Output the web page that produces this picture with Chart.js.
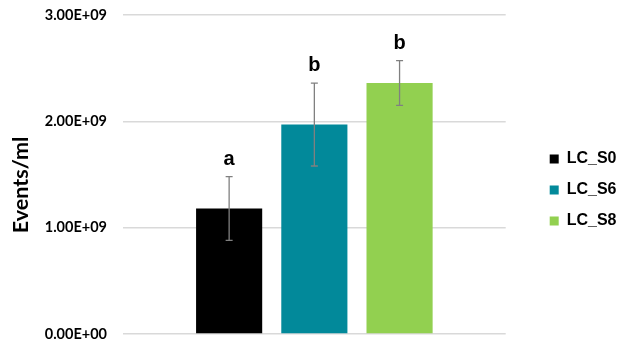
<!DOCTYPE html>
<html>
<head>
<meta charset="utf-8">
<script src="https://cdn.jsdelivr.net/npm/chart.js@4"></script>
<style>
  html, body { margin: 0; padding: 0; background: #fff; }
  #wrap { width: 624px; height: 347px; }
</style>
</head>
<body>
<div id="wrap"><canvas id="evChart"></canvas></div>
<script>
// data
const seriesNames = ['LC_S0', 'LC_S6', 'LC_S8'];
const seriesValues = [1.18e9, 1.97e9, 2.36e9];
const seriesErrors = [0.30e9, 0.39e9, 0.21e9];
const sigLetters = ['a', 'b', 'b'];
const seriesColors = ['#000000', '#02899a', '#92d050'];
const yTicks = [0, 1e9, 2e9, 3e9];

function sci(v) {
  if (v === 0) return '0.00E+00';
  const e = Math.floor(Math.log10(v));
  const m = v / Math.pow(10, e);
  return m.toFixed(2) + 'E+' + String(e).padStart(2, '0');
}

// error bars + letters drawn from the y scale
const errorBars = {
  id: 'errorBars',
  afterDatasetsDraw(chart) {
    const ctx = chart.ctx;
    const y = chart.scales.y;
    ctx.save();
    chart.data.datasets.forEach((ds, i) => {
      const bar = chart.getDatasetMeta(i).data[0];
      const x = bar.x;
      const v = seriesValues[i], err = seriesErrors[i];
      const yTop = y.getPixelForValue(v + err);
      const yBot = y.getPixelForValue(v - err);
      ctx.strokeStyle = '#808080';
      ctx.lineWidth = 1.3;
      ctx.beginPath();
      ctx.moveTo(x, yTop); ctx.lineTo(x, yBot);
      ctx.moveTo(x - 3.5, yTop); ctx.lineTo(x + 3.5, yTop);
      ctx.moveTo(x - 3.5, yBot); ctx.lineTo(x + 3.5, yBot);
      ctx.stroke();
      ctx.fillStyle = '#000';
      ctx.font = 'bold 20px "Liberation Sans"';
      ctx.textAlign = 'center';
      ctx.textBaseline = 'alphabetic';
      ctx.fillText(sigLetters[i], x, yTop - 12);
    });
    ctx.restore();
  }
};

const ctx = document.getElementById('evChart').getContext('2d');
new Chart(ctx, {
  type: 'bar',
  data: {
    labels: [''],
    datasets: seriesNames.map((name, i) => ({
      label: name,
      data: [seriesValues[i]],
      backgroundColor: seriesColors[i],
      borderWidth: 0
    }))
  },
  options: {
    responsive: true,
    maintainAspectRatio: false,
    animation: false,
    categoryPercentage: 0.668,
    barPercentage: 0.776,
    layout: { padding: { top: 0, bottom: 0, left: 8, right: -2.5 } },
    plugins: {
      tooltip: { enabled: false },
      legend: {
        position: 'right',
        title: {
          display: true,
          text: ' ',
          font: { size: 10 },
          padding: { top: 0, bottom: 21 }
        },
        labels: {
          font: { family: 'Liberation Sans', size: 16, weight: 'bold' },
          color: '#000',
          boxWidth: 9,
          boxHeight: 9,
          padding: 15
        }
      }
    },
    scales: {
      x: { display: false },
      y: {
        min: 0,
        max: 3e9,
        afterBuildTicks(axis) { axis.ticks = yTicks.map(v => ({ value: v })); },
        afterFit(axis) {
          axis.width = 115;
          axis.paddingTop = 15;
          axis.paddingBottom = 13;
        },
        ticks: {
          callback: v => sci(v),
          font: { family: 'Lato', size: 14.5, weight: 'bold' },
          color: '#000',
          padding: 16
        },
        grid: { color: '#d9d9d9', lineWidth: 1.5, drawTicks: false },
        border: { display: false },
        title: {
          display: true,
          // trailing spaces nudge the title down, as in the original
          text: 'Events/ml    ',
          font: { family: 'Lato', size: 21.5, weight: 'bold' },
          color: '#000',
          padding: { top: 0, bottom: 4 }
        }
      },
      // empty spacer between plot and legend
      gap: {
        position: 'right',
        display: true,
        grid: { display: false },
        border: { display: false },
        ticks: { display: false },
        afterFit(axis) { axis.width = 29; }
      }
    }
  },
  plugins: [errorBars]
});
</script>
</body>
</html>
